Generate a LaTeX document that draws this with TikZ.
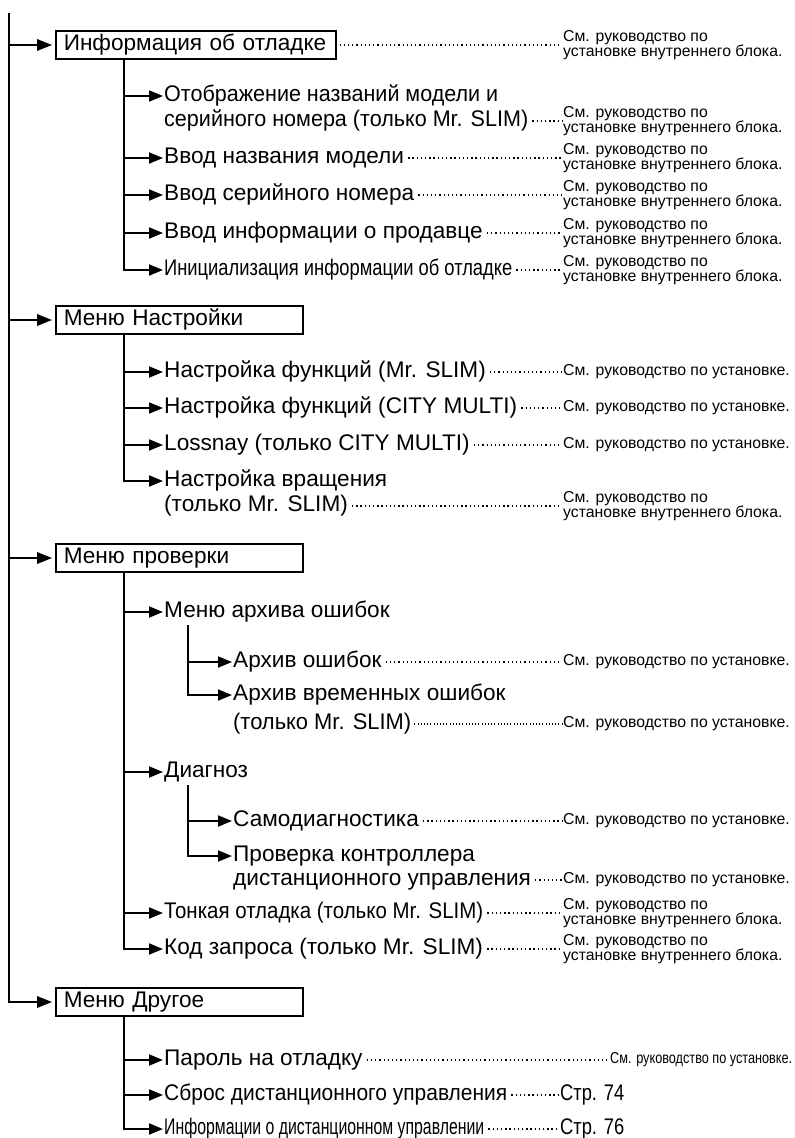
\documentclass[tikz,border=0pt]{standalone}
\usepackage{fontspec}
\usepackage{graphicx}
\setmainfont{Liberation Sans}
\usetikzlibrary{arrows.meta}
\newcommand{\narrow}[2]{\resizebox{#1}{\height}{#2}}
\begin{document}
\begin{tikzpicture}[x=1pt,y=-1pt,
  font=\fontsize{22.6}{25}\selectfont,
  box/.style={draw,line width=1.5pt,anchor=west,align=left,inner xsep=8pt,text height=16pt,text depth=5pt,inner ysep=3.5pt},
  item/.style={anchor=west,inner xsep=1pt,inner ysep=0pt,text height=16pt,text depth=5pt},
  ref/.style={anchor=west,font=\fontsize{15.8}{15.5}\selectfont,align=left,inner sep=1pt},
  pg/.style={anchor=west,inner sep=1pt},
  arr/.style={line width=1.9pt,-{Triangle[length=14pt,width=11pt]}},
  tarr/.style={line width=1.9pt,-{Triangle[length=15pt,width=11.5pt]},shorten >=3pt},
  dots/.style={line width=1.3pt,dash pattern=on 1.3pt off 2.9pt},
  densedots/.style={line width=1.1pt,dash pattern=on 1pt off 2.2pt},
]
\useasboundingbox (0,0) rectangle (795,1138);
% ---------- boxes
\node[box,text width=264pt] (b1) at (55,45) {Информация об отладке};
\node[box,text width=231pt] (b2) at (55,320) {Меню Настройки};
\node[box,text width=231pt] (b3) at (55,558) {Меню проверки};
\node[box,text width=231pt] (b4) at (55,1002) {Меню Другое};
\node[ref] (r1) at (562,45) {См. руководство по\\установке внутреннего блока.};
% ---------- group 1
\node[item] (i11a) at (163,96) {\narrow{334pt}{Отображение названий модели и}};
\node[item] (i11b) at (163,121) {\narrow{364pt}{серийного номера (только Mr. SLIM)}};
\node[item] (i12) at (163,158) {Ввод названия модели};
\node[item] (i13) at (163,195) {Ввод серийного номера};
\node[item] (i14) at (163,233) {Ввод информации о продавце};
\node[item] (i15) at (163,270) {\narrow{348pt}{Инициализация информации об отладке}};
\node[ref] (r11) at (562,121) {См. руководство по\\установке внутреннего блока.};
\node[ref] (r12) at (562,158) {См. руководство по\\установке внутреннего блока.};
\node[ref] (r13) at (562,195) {См. руководство по\\установке внутреннего блока.};
\node[ref] (r14) at (562,233) {См. руководство по\\установке внутреннего блока.};
\node[ref] (r15) at (562,270) {См. руководство по\\установке внутреннего блока.};
% ---------- group 2
\node[item] (i21) at (163,372) {Настройка функций (Mr. SLIM)};
\node[item] (i22) at (163,408) {Настройка функций (CITY MULTI)};
\node[item] (i23) at (163,445) {Lossnay (только CITY MULTI)};
\node[item] (i24a) at (163,481) {Настройка вращения};
\node[item] (i24b) at (163,506) {(только Mr. SLIM)};
\node[ref] (r21) at (562,372) {См. руководство по установке.};
\node[ref] (r22) at (562,408) {См. руководство по установке.};
\node[ref] (r23) at (562,445) {См. руководство по установке.};
\node[ref] (r24) at (562,506) {См. руководство по\\установке внутреннего блока.};
% ---------- group 3
\node[item] (i31) at (163,612) {Меню архива ошибок};
\node[item] (i311) at (232,662) {Архив ошибок};
\node[item] (i312a) at (232,695) {Архив временных ошибок};
\node[item] (i312b) at (232,724) {\narrow{178pt}{(только Mr. SLIM)}};
\node[item] (i32) at (163,772) {Диагноз};
\node[item] (i321) at (232,821) {Самодиагностика};
\node[item] (i322a) at (232,856) {Проверка контроллера};
\node[item] (i322b) at (232,880) {дистанционного управления};
\node[item] (i33) at (163,913) {\narrow{319pt}{Тонкая отладка (только Mr. SLIM)}};
\node[item] (i34) at (163,949) {Код запроса (только Mr. SLIM)};
\node[ref] (r311) at (562,662) {См. руководство по установке.};
\node[ref] (r312) at (562,724) {См. руководство по установке.};
\node[ref] (r321) at (562,821) {См. руководство по установке.};
\node[ref] (r322) at (562,880) {См. руководство по установке.};
\node[ref] (r33) at (562,913) {См. руководство по\\установке внутреннего блока.};
\node[ref] (r34) at (562,949) {См. руководство по\\установке внутреннего блока.};
% ---------- group 4
\node[item] (i41) at (163,1060) {Пароль на отладку};
\node[item] (i42) at (163,1095) {\narrow{343pt}{Сброс дистанционного управления}};
\node[item] (i43) at (163,1129) {\narrow{320pt}{Информации о дистанционном управлении}};
\node[ref] (r41) at (609,1060) {\narrow{182pt}{См. руководство по установке.}};
\node[pg] (p42) at (559,1095) {\narrow{64pt}{Стр. 74}};
\node[pg] (p43) at (559,1129) {\narrow{64pt}{Стр. 76}};
% ---------- trunk
\coordinate (t0) at (9,13);
\draw[tarr] (t0 |- b1.west) -- (b1.west);
\draw[tarr] (t0 |- b2.west) -- (b2.west);
\draw[tarr] (t0 |- b3.west) -- (b3.west);
\draw[tarr] (t0) |- (b4.west);
% ---------- level 1 verticals
\path (b1.south west) ++(69,0) coordinate (v1);
\path (b2.south west) ++(69,0) coordinate (v2);
\path (b3.south west) ++(69,0) coordinate (v3);
\path (b4.south west) ++(69,0) coordinate (v4);
\draw[arr] (v1 |- i11a.west) -- (i11a.west);
\draw[arr] (v1 |- i12.west) -- (i12.west);
\draw[arr] (v1 |- i13.west) -- (i13.west);
\draw[arr] (v1 |- i14.west) -- (i14.west);
\draw[arr] (v1) |- (i15.west);
\draw[arr] (v2 |- i21.west) -- (i21.west);
\draw[arr] (v2 |- i22.west) -- (i22.west);
\draw[arr] (v2 |- i23.west) -- (i23.west);
\draw[arr] (v2) |- (i24a.west);
\draw[arr] (v3 |- i31.west) -- (i31.west);
\draw[arr] (v3 |- i32.west) -- (i32.west);
\draw[arr] (v3 |- i33.west) -- (i33.west);
\draw[arr] (v3) |- (i34.west);
\draw[arr] (v4 |- i41.west) -- (i41.west);
\draw[arr] (v4 |- i42.west) -- (i42.west);
\draw[arr] (v4) |- (i43.west);
% ---------- level 2 verticals
\path (i31.south west) ++(25,2) coordinate (v31);
\path (i32.south west) ++(25,2) coordinate (v32);
\draw[arr] (v31 |- i311.west) -- (i311.west);
\draw[arr] (v31) |- (i312a.west);
\draw[arr] (v32 |- i321.west) -- (i321.west);
\draw[arr] (v32) |- (i322a.west);
% ---------- dotted leaders
\foreach \a/\b in {b1/r1,i11b/r11,i12/r12,i13/r13,i14/r14,i15/r15,
  i21/r21,i22/r22,i23/r23,i24b/r24,i311/r311,i321/r321,i322b/r322,
  i33/r33,i34/r34,i41/r41,i42/p42,i43/p43}
  \draw[dots] (\a.east) ++(3,0) -- (\b.west);
\draw[densedots] (i312b.east) ++(2,0) -- (r312.west);
\end{tikzpicture}
\end{document}
